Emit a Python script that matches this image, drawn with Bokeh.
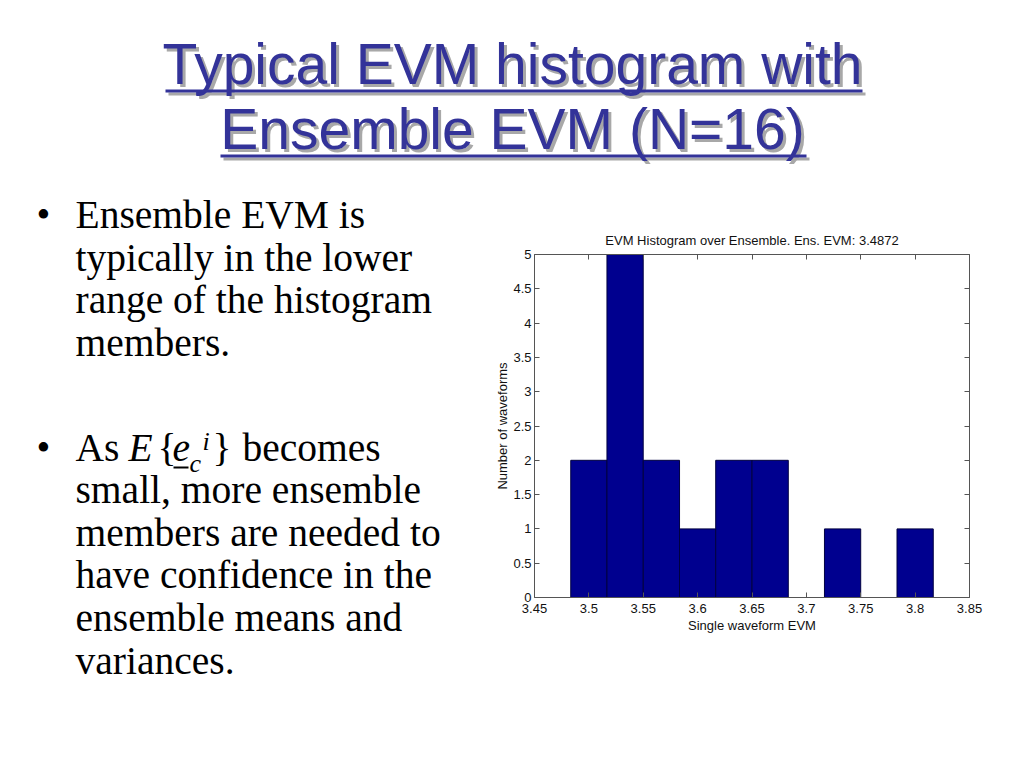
from bokeh.plotting import figure
from bokeh.models import Range1d, LinearAxis, FixedTicker, CustomJSTickFormatter
from bokeh.core.properties import value
from bokeh.embed import file_html
from bokeh.resources import INLINE

# ---------------- data ----------------
bin_centers = [3.5, 3.5333, 3.5667, 3.6, 3.6333, 3.6667, 3.7, 3.7333, 3.7667, 3.8]
counts = [2, 5, 2, 1, 2, 2, 0, 1, 0, 1]
x_ticks = [3.45, 3.5, 3.55, 3.6, 3.65, 3.7, 3.75, 3.8, 3.85]
x_tick_labels = ["3.45", "3.5", "3.55", "3.6", "3.65", "3.7", "3.75", "3.8", "3.85"]
y_ticks = [0.0, 0.5, 1.0, 1.5, 2.0, 2.5, 3.0, 3.5, 4.0, 4.5, 5.0]
y_tick_labels = ["0", "0.5", "1", "1.5", "2", "2.5", "3", "3.5", "4", "4.5", "5"]
chart_title = "EVM Histogram over Ensemble. Ens. EVM: 3.4872"
x_label = "Single waveform EVM"
y_label = "Number of waveforms"
slide_title = ["Typical EVM histogram with", "Ensemble EVM (N=16)"]
bullet1_lines = ["Ensemble EVM is", "typically in the lower", "range of the histogram", "members."]
bullet2_rest = ["small, more ensemble", "members are needed to", "have confidence in the",
                "ensemble means and", "variances."]

# ---------------- page geometry (px) ----------------
W, H = 1008, 752
FX0, FX1 = 534, 969    # chart frame left/right (page px)
FY1, FY0 = 254, 597    # chart frame top/bottom (page px)
XMIN, XMAX = x_ticks[0], x_ticks[-1]
YMIN, YMAX = y_ticks[0], y_ticks[-1]
sxu = (FX1 - FX0) / (XMAX - XMIN)     # px per x unit
syu = (FY0 - FY1) / (YMAX - YMIN)     # px per y unit
BASE_K = 0.36                          # baseline correction (fraction of font size)

SANS = "Liberation Sans"
SERIF = "Liberation Serif"

p = figure(width=W, height=H, x_range=Range1d(0, W), y_range=Range1d(H, 0),
           output_backend="svg", toolbar_location=None, title=None,
           x_axis_type=None, y_axis_type=None,
           min_border_left=0, min_border_right=0, min_border_top=0, min_border_bottom=0)
p.outline_line_color = None
p.background_fill_color = "white"
p.border_fill_color = "white"
p.xgrid.visible = False
p.ygrid.visible = False

# histogram coordinate system placed on the page
p.extra_x_ranges = {"hx": Range1d(XMIN - FX0 / sxu, XMIN + (W - FX0) / sxu)}
p.extra_y_ranges = {"hy": Range1d(YMIN - (H - FY0) / syu, YMAX + FY1 / syu)}


def txt(x, y, s, font, size, color="black", style="normal", align="left"):
    px = float(size.replace("px", ""))
    p.text(x=[x], y=[y - BASE_K * px], text=[s], text_font=value(font),
           text_font_size=value(size), text_font_style=value(style),
           text_color=color, text_align=align, text_baseline="alphabetic")


# ---------------- slide title ----------------
TITLE_COL = "#333399"
SHADOW = "#a8a8a8"
title_baselines = [84, 149]
underlines = [(165, 862, 89), (220, 806, 154)]
for dx, col in ((3, SHADOW), (0, TITLE_COL)):
    for t, base, (u0, u1, uy) in zip(slide_title, title_baselines, underlines):
        txt(512 + dx, base + dx, t, SANS, "57px", color=col, align="center")
        p.quad(left=[u0 + dx], right=[u1 + dx], top=[uy + dx], bottom=[uy + 3 + dx],
               fill_color=col, line_color=None)

# ---------------- bullets ----------------
BSIZE = "39.5px"
TX, BX = 75, 36
b1_base = [229, 272, 314, 357]
txt(BX, b1_base[0], "\u2022", SERIF, BSIZE)
for t, base in zip(bullet1_lines, b1_base):
    txt(TX, base, t, SERIF, BSIZE)

b2_base = [462, 504, 547, 589, 632, 675]
txt(BX, b2_base[0], "\u2022", SERIF, BSIZE)
txt(TX, b2_base[0], "As", SERIF, BSIZE)
txt(128, b2_base[0], "E", SERIF, BSIZE, style="italic")
txt(157, b2_base[0], "{", SERIF, BSIZE)
txt(172, b2_base[0], "e", SERIF, BSIZE, style="italic")
p.quad(left=[173], right=[188], top=[466], bottom=[468], fill_color="black", line_color=None)
txt(189, 472, "c", SERIF, "26px", style="italic")
txt(202, 450, "i", SERIF, "26px", style="italic")
txt(212, b2_base[0], "}", SERIF, BSIZE)
txt(242, b2_base[0], "becomes", SERIF, BSIZE)
for t, base in zip(bullet2_rest, b2_base[1:]):
    txt(TX, base, t, SERIF, BSIZE)

# ---------------- histogram ----------------
txt((FX0 + FX1) / 2, 245, chart_title, SANS, "13px", color="#111111", align="center")

bin_w = (bin_centers[-1] - bin_centers[0]) / (len(bin_centers) - 1)
p.vbar(x=bin_centers, top=counts, width=bin_w, bottom=0,
       fill_color="#00008F", line_color="#000040", line_width=1,
       x_range_name="hx", y_range_name="hy")

AX_COL = "#555555"
blank = CustomJSTickFormatter(code="return ''")


def make_axis(loc, bounds, ticks, labels=None, axis_label=None):
    ax = LinearAxis(x_range_name="hx", y_range_name="hy", fixed_location=loc, bounds=bounds,
                    ticker=FixedTicker(ticks=ticks))
    if labels is None:
        ax.formatter = blank
        ax.major_label_text_font_size = "0px"
        ax.major_label_standoff = 0
    else:
        ax.major_label_overrides = dict(zip(ticks, labels))
        ax.major_label_text_font_size = "13px"
    if axis_label:
        ax.axis_label = axis_label
    ax.axis_line_color = AX_COL
    ax.major_tick_line_color = AX_COL
    ax.minor_tick_line_color = None
    ax.major_tick_in = 5
    ax.major_tick_out = 0
    ax.major_label_text_font = SANS
    ax.major_label_text_color = "#111111"
    ax.axis_label_text_font = SANS
    ax.axis_label_text_font_size = "13px"
    ax.axis_label_text_font_style = "normal"
    ax.axis_label_text_color = "#111111"
    return ax


xb = make_axis(YMIN, (XMIN, XMAX), x_ticks, x_tick_labels, x_label)
xb.major_label_standoff = 6
xb.axis_label_standoff = 2
p.add_layout(xb, "below")

yl = make_axis(XMIN, (YMIN, YMAX), y_ticks, y_tick_labels, y_label)
yl.major_label_standoff = 3
yl.axis_label_standoff = 0
p.add_layout(yl, "left")

p.add_layout(make_axis(YMAX, (XMIN, XMAX), x_ticks), "above")
p.add_layout(make_axis(XMAX, (YMIN, YMAX), y_ticks), "right")

open("out.html", "w").write(file_html(p, INLINE))
